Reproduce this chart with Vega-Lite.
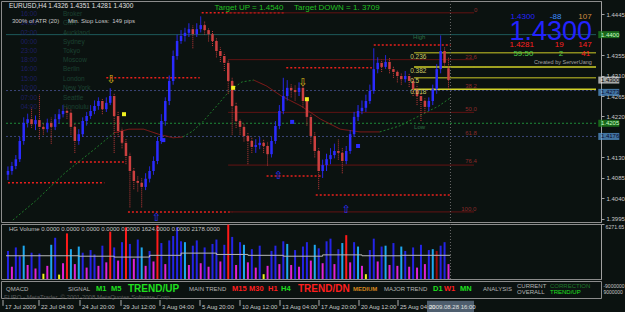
{
"$schema": "https://vega.github.io/schema/vega-lite/v6.json",
"background": "#0b1210",
"padding": 0,
"spacing": 2,
"bounds": "flush",
"config": {"view": {"stroke": "#8c8c8c", "strokeWidth": 1}, "text": {"font": "Liberation Sans"}},
"datasets": {
"c": [
{"i":0,"o":1.4092,"h":1.411,"l":1.408,"c":1.41,"v":3200,"vc":"B"},
{"i":1,"o":1.41,"h":1.412,"l":1.4092,"c":1.4111,"v":1400,"vc":"M"},
{"i":2,"o":1.4111,"h":1.4135,"l":1.4104,"c":1.4126,"v":3600,"vc":"B"},
{"i":3,"o":1.4126,"h":1.4175,"l":1.412,"c":1.4166,"v":2600,"vc":"B"},
{"i":4,"o":1.4166,"h":1.4218,"l":1.4158,"c":1.4206,"v":3800,"vc":"C"},
{"i":5,"o":1.4206,"h":1.4226,"l":1.4196,"c":1.4214,"v":1600,"vc":"M"},
{"i":6,"o":1.4214,"h":1.424,"l":1.4195,"c":1.4203,"v":3000,"vc":"B"},
{"i":7,"o":1.4203,"h":1.4222,"l":1.419,"c":1.4212,"v":1200,"vc":"M"},
{"i":8,"o":1.4212,"h":1.4268,"l":1.417,"c":1.4197,"v":2900,"vc":"B"},
{"i":9,"o":1.4197,"h":1.4205,"l":1.418,"c":1.4192,"v":600,"vc":"Y"},
{"i":10,"o":1.4192,"h":1.4215,"l":1.4185,"c":1.4206,"v":1500,"vc":"M"},
{"i":11,"o":1.4206,"h":1.4218,"l":1.416,"c":1.4197,"v":3900,"vc":"C"},
{"i":12,"o":1.4197,"h":1.4225,"l":1.419,"c":1.4214,"v":4700,"vc":"B"},
{"i":13,"o":1.4214,"h":1.4236,"l":1.4205,"c":1.4225,"v":500,"vc":"Y"},
{"i":14,"o":1.4225,"h":1.4245,"l":1.4218,"c":1.4232,"v":1800,"vc":"M"},
{"i":15,"o":1.4232,"h":1.424,"l":1.4215,"c":1.4228,"v":5200,"vc":"R"},
{"i":16,"o":1.4228,"h":1.4235,"l":1.418,"c":1.4197,"v":3400,"vc":"C"},
{"i":17,"o":1.4197,"h":1.4205,"l":1.414,"c":1.4166,"v":1700,"vc":"M"},
{"i":18,"o":1.4166,"h":1.4192,"l":1.4158,"c":1.4181,"v":3700,"vc":"C"},
{"i":19,"o":1.4181,"h":1.4218,"l":1.4175,"c":1.421,"v":3000,"vc":"B"},
{"i":20,"o":1.421,"h":1.423,"l":1.42,"c":1.4221,"v":1300,"vc":"M"},
{"i":21,"o":1.4221,"h":1.4245,"l":1.4215,"c":1.4232,"v":3300,"vc":"B"},
{"i":22,"o":1.4232,"h":1.4255,"l":1.4225,"c":1.4243,"v":2800,"vc":"B"},
{"i":23,"o":1.4243,"h":1.4262,"l":1.4235,"c":1.4254,"v":1500,"vc":"M"},
{"i":24,"o":1.4254,"h":1.426,"l":1.4225,"c":1.4236,"v":3800,"vc":"B"},
{"i":25,"o":1.4236,"h":1.4262,"l":1.423,"c":1.425,"v":1900,"vc":"M"},
{"i":26,"o":1.425,"h":1.4282,"l":1.4245,"c":1.4265,"v":5400,"vc":"R"},
{"i":27,"o":1.4265,"h":1.427,"l":1.414,"c":1.4221,"v":3600,"vc":"B"},
{"i":28,"o":1.4221,"h":1.423,"l":1.4175,"c":1.4188,"v":2100,"vc":"M"},
{"i":29,"o":1.4188,"h":1.4195,"l":1.415,"c":1.4162,"v":4200,"vc":"B"},
{"i":30,"o":1.4162,"h":1.417,"l":1.4115,"c":1.4133,"v":5900,"vc":"R"},
{"i":31,"o":1.4133,"h":1.414,"l":1.402,"c":1.41,"v":4000,"vc":"B"},
{"i":32,"o":1.41,"h":1.4108,"l":1.406,"c":1.4078,"v":2300,"vc":"M"},
{"i":33,"o":1.4078,"h":1.409,"l":1.4055,"c":1.4074,"v":4500,"vc":"B"},
{"i":34,"o":1.4074,"h":1.4085,"l":1.402,"c":1.4065,"v":3600,"vc":"C"},
{"i":35,"o":1.4065,"h":1.4095,"l":1.4058,"c":1.4083,"v":1500,"vc":"M"},
{"i":36,"o":1.4083,"h":1.411,"l":1.4075,"c":1.41,"v":3200,"vc":"B"},
{"i":37,"o":1.41,"h":1.4132,"l":1.4092,"c":1.4122,"v":2000,"vc":"M"},
{"i":38,"o":1.4122,"h":1.4175,"l":1.4115,"c":1.4166,"v":6100,"vc":"R"},
{"i":39,"o":1.4166,"h":1.4225,"l":1.416,"c":1.421,"v":4100,"vc":"B"},
{"i":40,"o":1.421,"h":1.4262,"l":1.42,"c":1.4254,"v":1700,"vc":"M"},
{"i":41,"o":1.4254,"h":1.431,"l":1.4245,"c":1.4298,"v":4400,"vc":"B"},
{"i":42,"o":1.4298,"h":1.4365,"l":1.429,"c":1.4353,"v":4900,"vc":"B"},
{"i":43,"o":1.4353,"h":1.44,"l":1.4345,"c":1.4386,"v":5900,"vc":"B"},
{"i":44,"o":1.4386,"h":1.441,"l":1.438,"c":1.4397,"v":4300,"vc":"B"},
{"i":45,"o":1.4397,"h":1.4415,"l":1.4385,"c":1.4404,"v":4200,"vc":"C"},
{"i":46,"o":1.4404,"h":1.4425,"l":1.4395,"c":1.4412,"v":1600,"vc":"M"},
{"i":47,"o":1.4412,"h":1.442,"l":1.437,"c":1.4401,"v":3800,"vc":"B"},
{"i":48,"o":1.4401,"h":1.4425,"l":1.4395,"c":1.4412,"v":4400,"vc":"B"},
{"i":49,"o":1.4412,"h":1.444,"l":1.4405,"c":1.4421,"v":1800,"vc":"M"},
{"i":50,"o":1.4421,"h":1.443,"l":1.44,"c":1.441,"v":3600,"vc":"B"},
{"i":51,"o":1.441,"h":1.4415,"l":1.4385,"c":1.4401,"v":1400,"vc":"M"},
{"i":52,"o":1.4401,"h":1.4408,"l":1.4375,"c":1.4386,"v":4000,"vc":"B"},
{"i":53,"o":1.4386,"h":1.4392,"l":1.435,"c":1.4364,"v":4500,"vc":"B"},
{"i":54,"o":1.4364,"h":1.4372,"l":1.434,"c":1.4353,"v":2000,"vc":"M"},
{"i":55,"o":1.4353,"h":1.436,"l":1.432,"c":1.4338,"v":3900,"vc":"B"},
{"i":56,"o":1.4338,"h":1.4345,"l":1.427,"c":1.4298,"v":6200,"vc":"R"},
{"i":57,"o":1.4298,"h":1.4305,"l":1.418,"c":1.4243,"v":4800,"vc":"B"},
{"i":58,"o":1.4243,"h":1.425,"l":1.4195,"c":1.421,"v":1600,"vc":"M"},
{"i":59,"o":1.421,"h":1.4215,"l":1.418,"c":1.4197,"v":4200,"vc":"B"},
{"i":60,"o":1.4197,"h":1.4205,"l":1.4165,"c":1.4177,"v":3900,"vc":"C"},
{"i":61,"o":1.4177,"h":1.4185,"l":1.4115,"c":1.4166,"v":1900,"vc":"M"},
{"i":62,"o":1.4166,"h":1.4175,"l":1.414,"c":1.4153,"v":3400,"vc":"B"},
{"i":63,"o":1.4153,"h":1.417,"l":1.414,"c":1.4157,"v":1300,"vc":"M"},
{"i":64,"o":1.4157,"h":1.4175,"l":1.4148,"c":1.4162,"v":3800,"vc":"B"},
{"i":65,"o":1.4162,"h":1.417,"l":1.414,"c":1.4155,"v":550,"vc":"Y"},
{"i":66,"o":1.4155,"h":1.4165,"l":1.4112,"c":1.4137,"v":1500,"vc":"M"},
{"i":67,"o":1.4137,"h":1.4175,"l":1.413,"c":1.4166,"v":3200,"vc":"B"},
{"i":68,"o":1.4166,"h":1.421,"l":1.416,"c":1.4199,"v":3800,"vc":"B"},
{"i":69,"o":1.4199,"h":1.4245,"l":1.4192,"c":1.4232,"v":1700,"vc":"M"},
{"i":70,"o":1.4232,"h":1.4305,"l":1.4225,"c":1.4265,"v":4300,"vc":"B"},
{"i":71,"o":1.4265,"h":1.43,"l":1.4255,"c":1.4283,"v":4000,"vc":"C"},
{"i":72,"o":1.4283,"h":1.4292,"l":1.4262,"c":1.4278,"v":1600,"vc":"M"},
{"i":73,"o":1.4278,"h":1.4288,"l":1.4255,"c":1.4274,"v":3300,"vc":"B"},
{"i":74,"o":1.4274,"h":1.4295,"l":1.4265,"c":1.4283,"v":1400,"vc":"M"},
{"i":75,"o":1.4283,"h":1.429,"l":1.424,"c":1.4254,"v":3700,"vc":"B"},
{"i":76,"o":1.4254,"h":1.4262,"l":1.42,"c":1.4219,"v":4200,"vc":"B"},
{"i":77,"o":1.4219,"h":1.4225,"l":1.416,"c":1.4177,"v":2100,"vc":"M"},
{"i":78,"o":1.4177,"h":1.4185,"l":1.413,"c":1.4144,"v":3900,"vc":"C"},
{"i":79,"o":1.4144,"h":1.415,"l":1.406,"c":1.41,"v":3500,"vc":"B"},
{"i":80,"o":1.41,"h":1.4125,"l":1.4085,"c":1.4113,"v":1800,"vc":"M"},
{"i":81,"o":1.4113,"h":1.4138,"l":1.41,"c":1.4126,"v":4300,"vc":"B"},
{"i":82,"o":1.4126,"h":1.415,"l":1.4115,"c":1.4135,"v":4600,"vc":"B"},
{"i":83,"o":1.4135,"h":1.416,"l":1.4128,"c":1.4144,"v":1700,"vc":"M"},
{"i":84,"o":1.4144,"h":1.417,"l":1.4125,"c":1.414,"v":3400,"vc":"B"},
{"i":85,"o":1.414,"h":1.415,"l":1.4095,"c":1.4122,"v":4100,"vc":"C"},
{"i":86,"o":1.4122,"h":1.4155,"l":1.4115,"c":1.4144,"v":5000,"vc":"R"},
{"i":87,"o":1.4144,"h":1.419,"l":1.4138,"c":1.4181,"v":1900,"vc":"M"},
{"i":88,"o":1.4181,"h":1.423,"l":1.4175,"c":1.4219,"v":4200,"vc":"B"},
{"i":89,"o":1.4219,"h":1.4245,"l":1.421,"c":1.4232,"v":3700,"vc":"C"},
{"i":90,"o":1.4232,"h":1.4255,"l":1.4225,"c":1.4239,"v":1500,"vc":"M"},
{"i":91,"o":1.4239,"h":1.4268,"l":1.423,"c":1.4254,"v":550,"vc":"Y"},
{"i":92,"o":1.4254,"h":1.429,"l":1.4248,"c":1.4276,"v":3300,"vc":"B"},
{"i":93,"o":1.4276,"h":1.437,"l":1.427,"c":1.4324,"v":4600,"vc":"B"},
{"i":94,"o":1.4324,"h":1.435,"l":1.4315,"c":1.4338,"v":2000,"vc":"M"},
{"i":95,"o":1.4338,"h":1.4345,"l":1.4318,"c":1.4329,"v":3700,"vc":"B"},
{"i":96,"o":1.4329,"h":1.4355,"l":1.4325,"c":1.434,"v":3800,"vc":"C"},
{"i":97,"o":1.434,"h":1.4348,"l":1.4315,"c":1.4324,"v":1600,"vc":"M"},
{"i":98,"o":1.4324,"h":1.433,"l":1.4305,"c":1.4318,"v":4100,"vc":"B"},
{"i":99,"o":1.4318,"h":1.4322,"l":1.4295,"c":1.4309,"v":1500,"vc":"M"},
{"i":100,"o":1.4309,"h":1.4315,"l":1.429,"c":1.4302,"v":3700,"vc":"C"},
{"i":101,"o":1.4302,"h":1.432,"l":1.4295,"c":1.4309,"v":3200,"vc":"B"},
{"i":102,"o":1.4309,"h":1.4315,"l":1.4285,"c":1.4298,"v":1400,"vc":"M"},
{"i":103,"o":1.4298,"h":1.4305,"l":1.4265,"c":1.428,"v":3600,"vc":"B"},
{"i":104,"o":1.428,"h":1.429,"l":1.4245,"c":1.4265,"v":1300,"vc":"M"},
{"i":105,"o":1.4265,"h":1.427,"l":1.421,"c":1.4254,"v":3900,"vc":"B"},
{"i":106,"o":1.4254,"h":1.426,"l":1.4228,"c":1.4241,"v":1700,"vc":"M"},
{"i":107,"o":1.4241,"h":1.4262,"l":1.4232,"c":1.4254,"v":3300,"vc":"B"},
{"i":108,"o":1.4254,"h":1.429,"l":1.4245,"c":1.428,"v":3400,"vc":"C"},
{"i":109,"o":1.428,"h":1.4335,"l":1.427,"c":1.4324,"v":3200,"vc":"D"},
{"i":110,"o":1.4324,"h":1.4398,"l":1.4315,"c":1.4364,"v":3800,"vc":"B"},
{"i":111,"o":1.4364,"h":1.4372,"l":1.433,"c":1.4338,"v":4200,"vc":"B"},
{"i":112,"o":1.4326,"h":1.4351,"l":1.4281,"c":1.43,"v":1700,"vc":"M"}
],
"ma": [
{"i":1.25,"p":1.3992,"s":1,"k":"g"},{"i":7,"p":1.4034,"s":1,"k":"g"},{"i":14.5,"p":1.4096,"s":1,"k":"g"},{"i":22,"p":1.4148,"s":1,"k":"g"},{"i":27,"p":1.4184,"s":1,"k":"g"},
{"i":27,"p":1.4184,"s":2,"k":"r"},{"i":30.75,"p":1.4192,"s":2,"k":"r"},{"i":34.5,"p":1.4192,"s":2,"k":"r"},{"i":38.25,"p":1.4181,"s":2,"k":"r"},{"i":42,"p":1.4173,"s":2,"k":"r"},{"i":44.5,"p":1.4175,"s":2,"k":"r"},
{"i":44.5,"p":1.4175,"s":3,"k":"g"},{"i":47,"p":1.4188,"s":3,"k":"g"},{"i":49.5,"p":1.4208,"s":3,"k":"g"},{"i":53.25,"p":1.4245,"s":3,"k":"g"},{"i":56.5,"p":1.4278,"s":3,"k":"g"},{"i":59.5,"p":1.4296,"s":3,"k":"g"},{"i":62.5,"p":1.43,"s":3,"k":"g"},
{"i":62.5,"p":1.43,"s":4,"k":"r"},{"i":65.75,"p":1.4287,"s":4,"k":"r"},{"i":69.5,"p":1.4265,"s":4,"k":"r"},{"i":74.5,"p":1.4243,"s":4,"k":"r"},{"i":79.5,"p":1.4214,"s":4,"k":"r"},{"i":84.5,"p":1.4192,"s":4,"k":"r"},{"i":89.5,"p":1.4186,"s":4,"k":"r"},{"i":94.5,"p":1.4186,"s":4,"k":"r"},
{"i":94.5,"p":1.4186,"s":5,"k":"g"},{"i":99.5,"p":1.4199,"s":5,"k":"g"},{"i":104.5,"p":1.4221,"s":5,"k":"g"},{"i":109.5,"p":1.4243,"s":5,"k":"g"},{"i":112.5,"p":1.4261,"s":5,"k":"g"}
],
"hl": [
{"a":49.25,"b":70.25,"p":1.4448,"k":"sr"},{"a":25,"b":48.75,"p":1.4305,"k":"sr"},{"a":0,"b":24.5,"p":1.4074,"k":"sr"},{"a":15.75,"b":30,"p":1.412,"k":"sr"},{"a":30.5,"b":57,"p":1.401,"k":"sr"},{"a":70.75,"b":92.5,"p":1.4327,"k":"sr"},{"a":65.75,"b":79.5,"p":1.4089,"k":"sr"},{"a":78.25,"b":112.5,"p":1.4047,"k":"sr"},{"a":93,"b":112.5,"p":1.4377,"k":"sr"},
{"a":56,"b":118.5,"p":1.4448,"k":"fib"},{"a":56,"b":118.5,"p":1.4345,"k":"fib"},{"a":56,"b":118.5,"p":1.4229,"k":"fib"},{"a":56,"b":118.5,"p":1.4113,"k":"fib"},{"a":56,"b":118.5,"p":1.401,"k":"fib"},
{"a":-0.5,"b":149.5,"p":1.44,"k":"tl"},{"a":-0.5,"b":149.5,"p":1.4277,"k":"sl"},{"a":-0.5,"b":149.5,"p":1.4205,"k":"gd"},{"a":-0.5,"b":149.5,"p":1.4176,"k":"sl"},
{"a":103.25,"b":149.5,"p":1.436,"k":"yo"},{"a":103.25,"b":149.5,"p":1.4329,"k":"yy"},{"a":103.25,"b":149.5,"p":1.4305,"k":"yo"},{"a":103.25,"b":149.5,"p":1.428,"k":"yy"}
],
"mk": [
{"i":29.5,"p":1.4225,"k":"ys","t":""},{"i":57.25,"p":1.4283,"k":"ys","t":""},{"i":76,"p":1.4258,"k":"ys","t":""},
{"i":39.5,"p":1.4168,"k":"bs","t":""},{"i":72.25,"p":1.4208,"k":"bs","t":""},{"i":89,"p":1.4155,"k":"bs","t":""},
{"i":26.25,"p":1.43,"k":"ya","t":"⇩"},{"i":75,"p":1.4294,"k":"ya","t":"⇩"},
{"i":37.75,"p":1.3996,"k":"ba","t":"⇧"},{"i":68.75,"p":1.4089,"k":"ba","t":"⇧"},{"i":86,"p":1.4014,"k":"ba","t":"⇧"}
],
"t1": [
{"i":0.25,"p":1.4463,"t":"EURUSD,H4  1.4326 1.4351 1.4281 1.4300","k":"w","z":"m"},
{"i":3.25,"p":1.4445,"t":"16:00","k":"sb","z":"m"},{"i":14,"p":1.4445,"t":"Broker","k":"sg","z":"m"},
{"i":3.25,"p":1.4426,"t":"14:00","k":"sb","z":"m"},{"i":14,"p":1.4426,"t":"GMT","k":"sg","z":"m"},
{"i":3.25,"p":1.4404,"t":"02:00","k":"sb","z":"m"},{"i":14,"p":1.4404,"t":"Auckland","k":"sg","z":"m"},
{"i":3.25,"p":1.4384,"t":"00:00","k":"sb","z":"m"},{"i":14,"p":1.4384,"t":"Sydney","k":"sg","z":"m"},
{"i":3.25,"p":1.4364,"t":"23:00","k":"sb","z":"m"},{"i":14,"p":1.4364,"t":"Tokyo","k":"sg","z":"m"},
{"i":3.25,"p":1.4344,"t":"18:00","k":"sb","z":"m"},{"i":14,"p":1.4344,"t":"Moscow","k":"sg","z":"m"},
{"i":3.25,"p":1.4324,"t":"16:00","k":"sb","z":"m"},{"i":14,"p":1.4324,"t":"Berlin","k":"sg","z":"m"},
{"i":3.25,"p":1.4302,"t":"15:00","k":"sb","z":"m"},{"i":14,"p":1.4302,"t":"London","k":"sg","z":"m"},
{"i":3.25,"p":1.4283,"t":"10:00","k":"sb","z":"m"},{"i":14,"p":1.4283,"t":"New York","k":"sg","z":"m"},
{"i":3.25,"p":1.4261,"t":"07:00","k":"sb","z":"m"},{"i":14,"p":1.4261,"t":"Seattle","k":"sg","z":"m"},
{"i":3.25,"p":1.4241,"t":"04:00","k":"sb","z":"m"},{"i":14,"p":1.4241,"t":"Honolulu","k":"sg","z":"m"},
{"i":1,"p":1.443,"t":"300% of ATR (20)","k":"g","z":"s"},
{"i":15.25,"p":1.443,"t":"Min. Stop Loss:","k":"g","z":"s"},
{"i":26.5,"p":1.443,"t":"149 pips","k":"g","z":"s"},
{"i":52.5,"p":1.4459,"t":"Target UP = 1.4540","k":"tg","z":"l"},
{"i":72.75,"p":1.4459,"t":"Target DOWN = 1. 3709","k":"tg","z":"l"},
{"i":103,"p":1.4395,"t":"High","k":"hl","z":"s"},
{"i":103.25,"p":1.4197,"t":"Low","k":"hl","z":"s"},
{"i":102.25,"p":1.4351,"t":"0.236","k":"fy","z":"m"},
{"i":102.25,"p":1.432,"t":"0.382","k":"fy","z":"m"},
{"i":102.25,"p":1.4298,"t":"0.5","k":"fy","z":"m"},
{"i":102.25,"p":1.4274,"t":"0.618","k":"fy","z":"m"},
{"i":118.5,"p":1.4454,"t":"0","k":"fr","z":"s"},
{"i":116.25,"p":1.4351,"t":"23.6","k":"fr","z":"s"},
{"i":116.25,"p":1.4287,"t":"38.2","k":"fr","z":"s"},
{"i":116.25,"p":1.4236,"t":"50.0","k":"fr","z":"s"},
{"i":116.25,"p":1.4184,"t":"61.8","k":"fr","z":"s"},
{"i":116.25,"p":1.4122,"t":"76.4","k":"fr","z":"s"},
{"i":115.25,"p":1.4016,"t":"100.0","k":"fr","z":"s"},
{"i":127.75,"p":1.4439,"t":"1.4300","k":"bl","z":"l"},
{"i":137.75,"p":1.4439,"t":"-88","k":"lb","z":"l"},
{"i":145,"p":1.4439,"t":"107","k":"or","z":"l"},
{"i":127.5,"p":1.4406,"t":"1.4300","k":"bl","z":"xl"},
{"i":127.5,"p":1.4377,"t":"1.4281","k":"rd","z":"l"},
{"i":139,"p":1.4377,"t":"19","k":"rd","z":"l"},
{"i":145,"p":1.4377,"t":"147","k":"rd","z":"l"},
{"i":128.5,"p":1.4357,"t":"59:50","k":"gr","z":"l"},
{"i":140,"p":1.4357,"t":"2","k":"gr","z":"l"},
{"i":145.75,"p":1.4357,"t":"41","k":"rd","z":"l"},
{"i":133.75,"p":1.434,"t":"Created by ServerUang","k":"cr","z":"xs"}
],
"bx": [
{"p":1.44,"t":"1.4400","k":"g"},{"p":1.43,"t":"1.4300","k":"w"},{"p":1.4273,"t":"1.4273","k":"b"},{"p":1.4205,"t":"1.4205","k":"g"},{"p":1.4176,"t":"1.4176","k":"b"}
],
"va": [
{"i":-0.5,"v":2650},{"i":18,"v":2600},{"i":27,"v":2500},{"i":36,"v":2700},{"i":44,"v":2950},{"i":53,"v":2800},{"i":61,"v":2700},{"i":70,"v":2600},{"i":80,"v":2750},{"i":90,"v":2650},{"i":100,"v":2700},{"i":112.5,"v":2700}
],
"p3": [
{"i":0.75,"r":2,"t":"QMACD","k":"gy","z":"s"},
{"i":16.25,"r":2,"t":"SIGNAL","k":"gy","z":"s"},
{"i":23.25,"r":2,"t":"M1","k":"gn","z":"b8"},
{"i":27,"r":2,"t":"M5","k":"gn","z":"b8"},
{"i":31.25,"r":2,"t":"TREND/UP","k":"gn","z":"b10"},
{"i":46.5,"r":2,"t":"MAIN TREND","k":"gy","z":"s"},
{"i":57.25,"r":2,"t":"M15","k":"rd","z":"b8"},
{"i":61.5,"r":2,"t":"M30","k":"rd","z":"b8"},
{"i":66.25,"r":2,"t":"H1","k":"rd","z":"b8"},
{"i":69.5,"r":2,"t":"H4","k":"gn","z":"b8"},
{"i":73.75,"r":2,"t":"TREND/DN","k":"rd","z":"b10"},
{"i":87.5,"r":2,"t":"MEDIUM","k":"or","z":"b6"},
{"i":95.25,"r":2,"t":"MAJOR TREND","k":"gy","z":"s"},
{"i":107.5,"r":2,"t":"D1","k":"gn","z":"b8"},
{"i":110.25,"r":2,"t":"W1","k":"rd","z":"b8"},
{"i":114.25,"r":2,"t":"MN","k":"gn","z":"b8"},
{"i":120,"r":2,"t":"ANALYSIS","k":"gy","z":"s"},
{"i":128.5,"r":1,"t":"CURRENT","k":"gy","z":"s"},
{"i":128.5,"r":3,"t":"OVERALL","k":"gy","z":"s"},
{"i":136.75,"r":1,"t":"CORRECTION","k":"dg","z":"s"},
{"i":136.75,"r":3,"t":"TREND/UP","k":"gn","z":"s"},
{"i":0.25,"r":4.6,"t":"EURO - MetaTrader, © 2001-2008 MetaQuotes Software Corp.","k":"fd","z":"s"}
],
"p3r": [
{"i":150.1,"r":1,"t":"-9000000"},
{"i":150.1,"r":3,"t":"9000000"}
],
"dt": [
{"i":0,"t":"17 Jul 2009"},{"i":9,"t":"22 Jul 04:00"},{"i":19.25,"t":"24 Jul 20:00"},{"i":29.5,"t":"29 Jul 12:00"},{"i":39.25,"t":"3 Aug 04:00"},{"i":49.25,"t":"5 Aug 20:00"},{"i":59.25,"t":"10 Aug 12:00"},{"i":69.25,"t":"13 Aug 04:00"},{"i":79,"t":"17 Aug 20:00"},{"i":89,"t":"20 Aug 12:00"},{"i":98.75,"t":"25 Aug 04:00"}
]
},
"vconcat": [
{
"width": 600, "height": 221,
"resolve": {"scale": {"color": "independent", "strokeDash": "independent", "strokeWidth": "independent", "size": "independent"}},
"layer": [
{"data": {"name": "hl"}, "mark": {"type": "rule"},
 "encoding": {
  "x": {"field": "a", "type": "quantitative", "scale": {"domain": [-0.5, 149.5], "nice": false, "zero": false}, "axis": null},
  "x2": {"field": "b"},
  "y": {"field": "p", "type": "quantitative", "title": null, "scale": {"domain": [1.39878, 1.4474], "nice": false, "zero": false}, "axis": {"orient": "right", "values": [1.4445, 1.4355, 1.431, 1.4265, 1.422, 1.413, 1.4085, 1.404, 1.3995], "format": ".4f", "labelFont": "Liberation Sans Narrow, Liberation Sans", "labelFontSize": 6, "labelColor": "#c8c8c8", "tickColor": "#a0a0a0", "domainColor": "#a0a0a0", "tickSize": 3, "labelPadding": 2, "grid": false, "title": null}},
  "color": {"field": "k", "type": "nominal", "legend": null, "scale": {"domain": ["sr", "fib", "tl", "sl", "gd", "yo", "yy"], "range": ["#e8201c", "#6e1414", "#1d5a5a", "#3c4678", "#1f8a3a", "#8c8c1e", "#d2d228"]}},
  "strokeDash": {"field": "k", "type": "nominal", "legend": null, "scale": {"domain": ["sr", "fib", "tl", "sl", "gd", "yo", "yy"], "range": [[2, 2], [1, 0], [1, 0], [2, 2], [2, 2], [1, 0], [1, 0]]}},
  "strokeWidth": {"field": "k", "type": "nominal", "legend": null, "scale": {"type": "ordinal", "domain": ["sr", "fib", "tl", "sl", "gd", "yo", "yy"], "range": [1.5, 1, 1, 1, 1, 1.5, 1.5]}}
 }},
{"data": {"name": "ma"}, "mark": {"type": "line", "strokeWidth": 1},
 "encoding": {
  "x": {"field": "i", "type": "quantitative", "scale": {"domain": [-0.5, 149.5], "nice": false, "zero": false}, "axis": null},
  "y": {"field": "p", "type": "quantitative", "title": null, "scale": {"domain": [1.39878, 1.4474], "nice": false, "zero": false}, "axis": {"orient": "right", "values": [1.4445, 1.4355, 1.431, 1.4265, 1.422, 1.413, 1.4085, 1.404, 1.3995], "format": ".4f", "labelFont": "Liberation Sans Narrow, Liberation Sans", "labelFontSize": 6, "labelColor": "#c8c8c8", "tickColor": "#a0a0a0", "domainColor": "#a0a0a0", "tickSize": 3, "labelPadding": 2, "grid": false, "title": null}},
  "detail": {"field": "s"},
  "color": {"field": "k", "type": "nominal", "legend": null, "scale": {"domain": ["g", "r"], "range": ["#1f7a2a", "#8e1b1b"]}},
  "strokeDash": {"field": "k", "type": "nominal", "legend": null, "scale": {"domain": ["g", "r"], "range": [[2, 2], [1, 0]]}}
 }},
{"data": {"name": "c"}, "mark": {"type": "rule", "strokeWidth": 1},
 "encoding": {
  "x": {"field": "i", "type": "quantitative", "scale": {"domain": [-0.5, 149.5], "nice": false, "zero": false}, "axis": null},
  "y": {"field": "l", "type": "quantitative", "title": null, "scale": {"domain": [1.39878, 1.4474], "nice": false, "zero": false}, "axis": {"orient": "right", "values": [1.4445, 1.4355, 1.431, 1.4265, 1.422, 1.413, 1.4085, 1.404, 1.3995], "format": ".4f", "labelFont": "Liberation Sans Narrow, Liberation Sans", "labelFontSize": 6, "labelColor": "#c8c8c8", "tickColor": "#a0a0a0", "domainColor": "#a0a0a0", "tickSize": 3, "labelPadding": 2, "grid": false, "title": null}},
  "y2": {"field": "h"},
  "color": {"condition": {"test": "datum.c >= datum.o", "value": "#2b2bff"}, "value": "#c23a3a"},
  "strokeDash": {"condition": {"test": "datum.c >= datum.o", "value": [1, 0]}, "value": [1, 1]}
 }},
{"data": {"name": "c"}, "mark": {"type": "bar", "size": 2.5},
 "encoding": {
  "x": {"field": "i", "type": "quantitative", "scale": {"domain": [-0.5, 149.5], "nice": false, "zero": false}, "axis": null},
  "y": {"field": "o", "type": "quantitative", "title": null, "scale": {"domain": [1.39878, 1.4474], "nice": false, "zero": false}, "axis": {"orient": "right", "values": [1.4445, 1.4355, 1.431, 1.4265, 1.422, 1.413, 1.4085, 1.404, 1.3995], "format": ".4f", "labelFont": "Liberation Sans Narrow, Liberation Sans", "labelFontSize": 6, "labelColor": "#c8c8c8", "tickColor": "#a0a0a0", "domainColor": "#a0a0a0", "tickSize": 3, "labelPadding": 2, "grid": false, "title": null}},
  "y2": {"field": "c"},
  "color": {"condition": {"test": "datum.c >= datum.o", "value": "#2b2bff"}, "value": "#cc4040"}
 }},
{"data": {"name": "mk"}, "transform": [{"filter": "datum.k == 'ys' || datum.k == 'bs'"}], "mark": {"type": "square", "filled": true, "size": 16, "opacity": 1},
 "encoding": {
  "x": {"field": "i", "type": "quantitative", "scale": {"domain": [-0.5, 149.5], "nice": false, "zero": false}, "axis": null},
  "y": {"field": "p", "type": "quantitative", "title": null, "scale": {"domain": [1.39878, 1.4474], "nice": false, "zero": false}, "axis": {"orient": "right", "values": [1.4445, 1.4355, 1.431, 1.4265, 1.422, 1.413, 1.4085, 1.404, 1.3995], "format": ".4f", "labelFont": "Liberation Sans Narrow, Liberation Sans", "labelFontSize": 6, "labelColor": "#c8c8c8", "tickColor": "#a0a0a0", "domainColor": "#a0a0a0", "tickSize": 3, "labelPadding": 2, "grid": false, "title": null}},
  "color": {"field": "k", "type": "nominal", "legend": null, "scale": {"domain": ["ys", "bs"], "range": ["#f0f020", "#2b2bff"]}}
 }},
{"data": {"name": "mk"}, "transform": [{"filter": "datum.k == 'ya' || datum.k == 'ba'"}], "mark": {"type": "text", "font": "DejaVu Sans", "fontSize": 11, "align": "center", "baseline": "middle"},
 "encoding": {
  "x": {"field": "i", "type": "quantitative", "scale": {"domain": [-0.5, 149.5], "nice": false, "zero": false}, "axis": null},
  "y": {"field": "p", "type": "quantitative", "title": null, "scale": {"domain": [1.39878, 1.4474], "nice": false, "zero": false}, "axis": {"orient": "right", "values": [1.4445, 1.4355, 1.431, 1.4265, 1.422, 1.413, 1.4085, 1.404, 1.3995], "format": ".4f", "labelFont": "Liberation Sans Narrow, Liberation Sans", "labelFontSize": 6, "labelColor": "#c8c8c8", "tickColor": "#a0a0a0", "domainColor": "#a0a0a0", "tickSize": 3, "labelPadding": 2, "grid": false, "title": null}},
  "text": {"field": "t"},
  "color": {"field": "k", "type": "nominal", "legend": null, "scale": {"domain": ["ya", "ba"], "range": ["#d8b818", "#3030ff"]}}
 }},
{"data": {"name": "t1"}, "mark": {"type": "text", "font": "Liberation Sans", "align": "left", "baseline": "middle"},
 "encoding": {
  "x": {"field": "i", "type": "quantitative", "scale": {"domain": [-0.5, 149.5], "nice": false, "zero": false}, "axis": null},
  "y": {"field": "p", "type": "quantitative", "title": null, "scale": {"domain": [1.39878, 1.4474], "nice": false, "zero": false}, "axis": {"orient": "right", "values": [1.4445, 1.4355, 1.431, 1.4265, 1.422, 1.413, 1.4085, 1.404, 1.3995], "format": ".4f", "labelFont": "Liberation Sans Narrow, Liberation Sans", "labelFontSize": 6, "labelColor": "#c8c8c8", "tickColor": "#a0a0a0", "domainColor": "#a0a0a0", "tickSize": 3, "labelPadding": 2, "grid": false, "title": null}},
  "text": {"field": "t"},
  "color": {"field": "k", "type": "nominal", "legend": null, "scale": {"domain": ["w", "g", "sb", "sg", "tg", "hl", "fy", "fr", "bl", "lb", "or", "rd", "gr", "cr"], "range": ["#e0e0e0", "#c8c8c8", "#1e1e62", "#1b4230", "#22c022", "#2d6e45", "#c8c864", "#8a2a2a", "#2323ff", "#3b8bff", "#d08a40", "#ff2020", "#4ad04a", "#a0a0a0"]}},
  "size": {"field": "z", "type": "ordinal", "legend": null, "scale": {"type": "ordinal", "domain": ["xs", "s", "m", "l", "xl"], "range": [5.5, 6, 6.5, 8, 27]}}
 }},
{"data": {"values": [{}]}, "mark": {"type": "rule", "color": "#6a6a6a", "strokeDash": [1, 2]},
 "encoding": {"x": {"datum": 112.5, "type": "quantitative", "scale": {"domain": [-0.5, 149.5], "nice": false, "zero": false}, "axis": null}}},
{"data": {"name": "bx"}, "mark": {"type": "tick", "orient": "horizontal", "size": 21, "thickness": 7},
 "encoding": {
  "x": {"datum": 152.75, "type": "quantitative", "scale": {"domain": [-0.5, 149.5], "nice": false, "zero": false}, "axis": null},
  "y": {"field": "p", "type": "quantitative", "title": null, "scale": {"domain": [1.39878, 1.4474], "nice": false, "zero": false}, "axis": {"orient": "right", "values": [1.4445, 1.4355, 1.431, 1.4265, 1.422, 1.413, 1.4085, 1.404, 1.3995], "format": ".4f", "labelFont": "Liberation Sans Narrow, Liberation Sans", "labelFontSize": 6, "labelColor": "#c8c8c8", "tickColor": "#a0a0a0", "domainColor": "#a0a0a0", "tickSize": 3, "labelPadding": 2, "grid": false, "title": null}},
  "color": {"field": "k", "type": "nominal", "legend": null, "scale": {"domain": ["g", "w", "b"], "range": ["#1e8c1e", "#e8e8e8", "#5a9ee0"]}}
 }},
{"data": {"name": "bx"}, "mark": {"type": "text", "font": "Liberation Sans Narrow, Liberation Sans", "fontSize": 6, "align": "left", "baseline": "middle"},
 "encoding": {
  "x": {"datum": 150.75, "type": "quantitative", "scale": {"domain": [-0.5, 149.5], "nice": false, "zero": false}, "axis": null},
  "y": {"field": "p", "type": "quantitative", "title": null, "scale": {"domain": [1.39878, 1.4474], "nice": false, "zero": false}, "axis": {"orient": "right", "values": [1.4445, 1.4355, 1.431, 1.4265, 1.422, 1.413, 1.4085, 1.404, 1.3995], "format": ".4f", "labelFont": "Liberation Sans Narrow, Liberation Sans", "labelFontSize": 6, "labelColor": "#c8c8c8", "tickColor": "#a0a0a0", "domainColor": "#a0a0a0", "tickSize": 3, "labelPadding": 2, "grid": false, "title": null}},
  "text": {"field": "t"},
  "color": {"field": "k", "type": "nominal", "legend": null, "scale": {"domain": ["g", "w", "b"], "range": ["#c8ffc8", "#000000", "#0a0a30"]}}
 }}
]
},
{
"width": 600, "height": 55,
"resolve": {"scale": {"color": "independent"}},
"layer": [
{"data": {"name": "c"}, "mark": {"type": "bar", "size": 2},
 "encoding": {
  "x": {"field": "i", "type": "quantitative", "scale": {"domain": [-0.5, 149.5], "nice": false, "zero": false}, "axis": null},
  "y": {"field": "v", "type": "quantitative", "title": null, "scale": {"domain": [0, 6271.65], "nice": false}, "axis": {"orient": "right", "values": [6271.65], "format": ".2f", "labelBaseline": "top", "labelFont": "Liberation Sans Narrow, Liberation Sans", "labelFontSize": 5.2, "labelColor": "#c8c8c8", "tickColor": "#a0a0a0", "domainColor": "#a0a0a0", "tickSize": 3, "labelPadding": 1, "grid": false, "title": null}},
  "color": {"field": "vc", "type": "nominal", "legend": null, "scale": {"domain": ["B", "M", "C", "R", "Y", "D"], "range": ["#2424e6", "#e022d8", "#1ea8f0", "#ff1a1a", "#f0f01e", "#9a0a0a"]}}
 }},
{"data": {"name": "va"}, "mark": {"type": "line", "interpolate": "step-after", "color": "#b8b8b8", "strokeWidth": 1},
 "encoding": {
  "x": {"field": "i", "type": "quantitative", "scale": {"domain": [-0.5, 149.5], "nice": false, "zero": false}, "axis": null},
  "y": {"field": "v", "type": "quantitative", "title": null, "scale": {"domain": [0, 6271.65], "nice": false}, "axis": {"orient": "right", "values": [6271.65], "format": ".2f", "labelBaseline": "top", "labelFont": "Liberation Sans Narrow, Liberation Sans", "labelFontSize": 5.2, "labelColor": "#c8c8c8", "tickColor": "#a0a0a0", "domainColor": "#a0a0a0", "tickSize": 3, "labelPadding": 1, "grid": false, "title": null}}
 }},
{"data": {"values": [{}]}, "mark": {"type": "rule", "color": "#6a6a6a", "strokeDash": [1, 2]},
 "encoding": {"x": {"datum": 112.5, "type": "quantitative", "scale": {"domain": [-0.5, 149.5], "nice": false, "zero": false}, "axis": null}}},
{"data": {"values": [{"t": "HG Volume 0.0000 0.0000 0.0000 0.0000 0.0000 1624.0000 0.0000 2178.0000"}]}, "mark": {"type": "text", "font": "Liberation Sans", "fontSize": 6, "align": "left", "baseline": "middle", "color": "#c0c0c0"},
 "encoding": {
  "x": {"datum": 0.25, "type": "quantitative", "scale": {"domain": [-0.5, 149.5], "nice": false, "zero": false}, "axis": null},
  "y": {"datum": 5700, "type": "quantitative", "title": null, "scale": {"domain": [0, 6271.65], "nice": false}, "axis": {"orient": "right", "values": [6271.65], "format": ".2f", "labelBaseline": "top", "labelFont": "Liberation Sans Narrow, Liberation Sans", "labelFontSize": 5.2, "labelColor": "#c8c8c8", "tickColor": "#a0a0a0", "domainColor": "#a0a0a0", "tickSize": 3, "labelPadding": 1, "grid": false, "title": null}},
  "text": {"field": "t"}
 }}
]
},
{
"width": 600, "height": 17,
"resolve": {"scale": {"color": "independent", "size": "independent"}},
"layer": [
{"data": {"name": "p3"}, "transform": [{"filter": "datum.z == 's'"}], "mark": {"type": "text", "font": "Liberation Sans", "fontSize": 6, "align": "left", "baseline": "middle"},
 "encoding": {
  "x": {"field": "i", "type": "quantitative", "scale": {"domain": [-0.5, 149.5], "nice": false, "zero": false}, "axis": null},
  "y": {"field": "r", "type": "quantitative", "scale": {"domain": [-0.667, 5], "reverse": true, "nice": false, "zero": false}, "axis": null},
  "text": {"field": "t"},
  "color": {"field": "k", "type": "nominal", "legend": null, "scale": {"domain": ["gy", "gn", "rd", "or", "dg", "fd"], "range": ["#b4b4b4", "#1ee01e", "#ff1e1e", "#d4861e", "#1f7a2a", "#5a5a5a"]}}
 }},
{"data": {"name": "p3r"}, "mark": {"type": "text", "font": "Liberation Sans Narrow, Liberation Sans", "fontSize": 5, "align": "left", "baseline": "middle", "color": "#c8c8c8"},
 "encoding": {
  "x": {"field": "i", "type": "quantitative", "scale": {"domain": [-0.5, 149.5], "nice": false, "zero": false}, "axis": null},
  "y": {"field": "r", "type": "quantitative", "scale": {"domain": [-0.667, 5], "reverse": true, "nice": false, "zero": false}, "axis": null},
  "text": {"field": "t"}
 }},
{"data": {"name": "p3"}, "transform": [{"filter": "datum.z != 's'"}], "mark": {"type": "text", "font": "Liberation Sans", "fontWeight": "bold", "align": "left", "baseline": "middle"},
 "encoding": {
  "x": {"field": "i", "type": "quantitative", "scale": {"domain": [-0.5, 149.5], "nice": false, "zero": false}, "axis": null},
  "y": {"field": "r", "type": "quantitative", "scale": {"domain": [-0.667, 5], "reverse": true, "nice": false, "zero": false}, "axis": null},
  "text": {"field": "t"},
  "color": {"field": "k", "type": "nominal", "legend": null, "scale": {"domain": ["gy", "gn", "rd", "or", "dg", "fd"], "range": ["#b4b4b4", "#1ee01e", "#ff1e1e", "#d4861e", "#1f7a2a", "#5a5a5a"]}},
  "size": {"field": "z", "type": "ordinal", "legend": null, "scale": {"type": "ordinal", "domain": ["b6", "b8", "b10"], "range": [6, 7.5, 10]}}
 }}
]
},
{
"width": 600, "height": 13,
"view": {"stroke": null},
"layer": [
{"data": {"name": "dt"}, "mark": {"type": "rule", "color": "#b0b0b0"},
 "encoding": {
  "x": {"field": "i", "type": "quantitative", "scale": {"domain": [-0.5, 149.5], "nice": false, "zero": false}, "axis": null},
  "y": {"datum": 1, "type": "quantitative", "scale": {"domain": [0, 1], "nice": false}, "axis": null},
  "y2": {"datum": 0.55}
 }},
{"data": {"values": [{}]}, "mark": {"type": "rect", "color": "#4e5e6e"},
 "encoding": {
  "x": {"datum": 106, "type": "quantitative", "scale": {"domain": [-0.5, 149.5], "nice": false, "zero": false}, "axis": null},
  "x2": {"datum": 117.75},
  "y": {"datum": 0.05, "type": "quantitative", "scale": {"domain": [0, 1], "nice": false}, "axis": null},
  "y2": {"datum": 0.95}
 }},
{"data": {"name": "dt"}, "mark": {"type": "text", "font": "Liberation Sans", "fontSize": 6, "align": "left", "baseline": "middle", "dx": 2, "color": "#c8c8c8"},
 "encoding": {
  "x": {"field": "i", "type": "quantitative", "scale": {"domain": [-0.5, 149.5], "nice": false, "zero": false}, "axis": null},
  "y": {"datum": 0.5, "type": "quantitative", "scale": {"domain": [0, 1], "nice": false}, "axis": null},
  "text": {"field": "t"}
 }},
{"data": {"values": [{"t": "2009.08.28 16:00"}]}, "mark": {"type": "text", "font": "Liberation Sans", "fontSize": 6, "align": "left", "baseline": "middle", "dx": 2, "color": "#e0e0e0"},
 "encoding": {
  "x": {"datum": 106, "type": "quantitative", "scale": {"domain": [-0.5, 149.5], "nice": false, "zero": false}, "axis": null},
  "y": {"datum": 0.5, "type": "quantitative", "scale": {"domain": [0, 1], "nice": false}, "axis": null},
  "text": {"field": "t"}
 }}
]
}
]
}
